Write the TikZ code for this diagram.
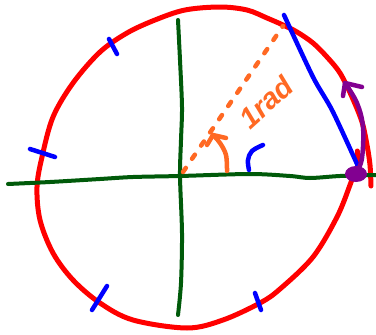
\documentclass[tikz,border=0pt]{standalone}
\usepackage{fontspec}
\setmainfont{Liberation Sans}
\begin{document}
\begin{tikzpicture}[x=1pt,y=-1pt,line cap=round,line join=round,
  redline/.style={draw=cred,line width=5pt},
  axisline/.style={draw=cgreen,line width=4pt},
  blueline/.style={draw=cblue,line width=4.5pt},
  orangeline/.style={draw=corange,line width=4.5pt},
  purpleline/.style={draw=cpurple,line width=4.5pt}]
\definecolor{cred}{RGB}{255,0,0}
\definecolor{cgreen}{RGB}{0,90,10}
\definecolor{cblue}{RGB}{0,0,255}
\definecolor{corange}{RGB}{255,105,35}
\definecolor{cpurple}{RGB}{130,0,145}
\useasboundingbox (0,0) rectangle (376,335);
% circle
\draw[redline] plot[smooth,tension=0.55] coordinates {
 (371,186) (370,165) (367,145) (362,122) (352,97) (340,73) (327,57) (313,43)
 (297,32) (283,25) (267,18) (247,10) (220,7) (185,10) (155,20) (127,33) (100,52)
 (73,83) (53,117) (42,157) (37,187) (40,220) (53,253) (73,280) (100,303)
 (133,320) (187,328) (223,320) (260,303) (280,289) (313,257) (337,217) (350,185) (355,170)};
\draw[redline] (357,151) -- (357,168);
% axes
\draw[axisline] plot[smooth,tension=0.5] coordinates {
 (8,184) (50,182) (100,179) (133,177) (180,176) (250,174) (290,176) (310,178) (340,176) (376,175)};
\draw[axisline] plot[smooth,tension=0.5] coordinates {
 (178,20) (180,60) (182,107) (181,140) (180,176) (182,233) (181,283) (178,315)};
% blue ticks
\draw[blueline] (109,39) -- (117,54);
\draw[blueline] (30,149) -- (55,157);
\draw[blueline] (107,286) -- (92,310);
\draw[blueline] (255,293) -- (261,310);
% blue line
\draw[blueline] plot[smooth,tension=0.5] coordinates {(284,15) (313,77) (333,112) (362,175)};
% blue small arc
\draw[blueline] plot[smooth,tension=0.6] coordinates {(263,145) (252,151) (248,160) (249,170)};
% orange dashed radius
\coordinate (O) at (183,172);
\coordinate (P) at (283,26);
\draw[orangeline,dash pattern=on 5pt off 11pt] (O) -- (P);
% orange arrow
\draw[orangeline] plot[smooth,tension=0.6] coordinates {(227,171) (226,155) (220,143) (213,135)};
\draw[orangeline] (207,145) -- (213,135) -- (226,138);
\node[text=corange,font=\fontsize{29}{29}\selectfont\bfseries\itshape,rotate=42,inner sep=0pt] (lbl) at (266,102) {1rad};
% purple arrow
\fill[cpurple] (356,174) ellipse [x radius=11, y radius=8];
\draw[purpleline] plot[smooth,tension=0.6] coordinates {(357,172) (362,158) (363,127) (357,103) (345,83)};
\draw[purpleline] (343,96) -- (345,83) -- (362,87);
\end{tikzpicture}
\end{document}
